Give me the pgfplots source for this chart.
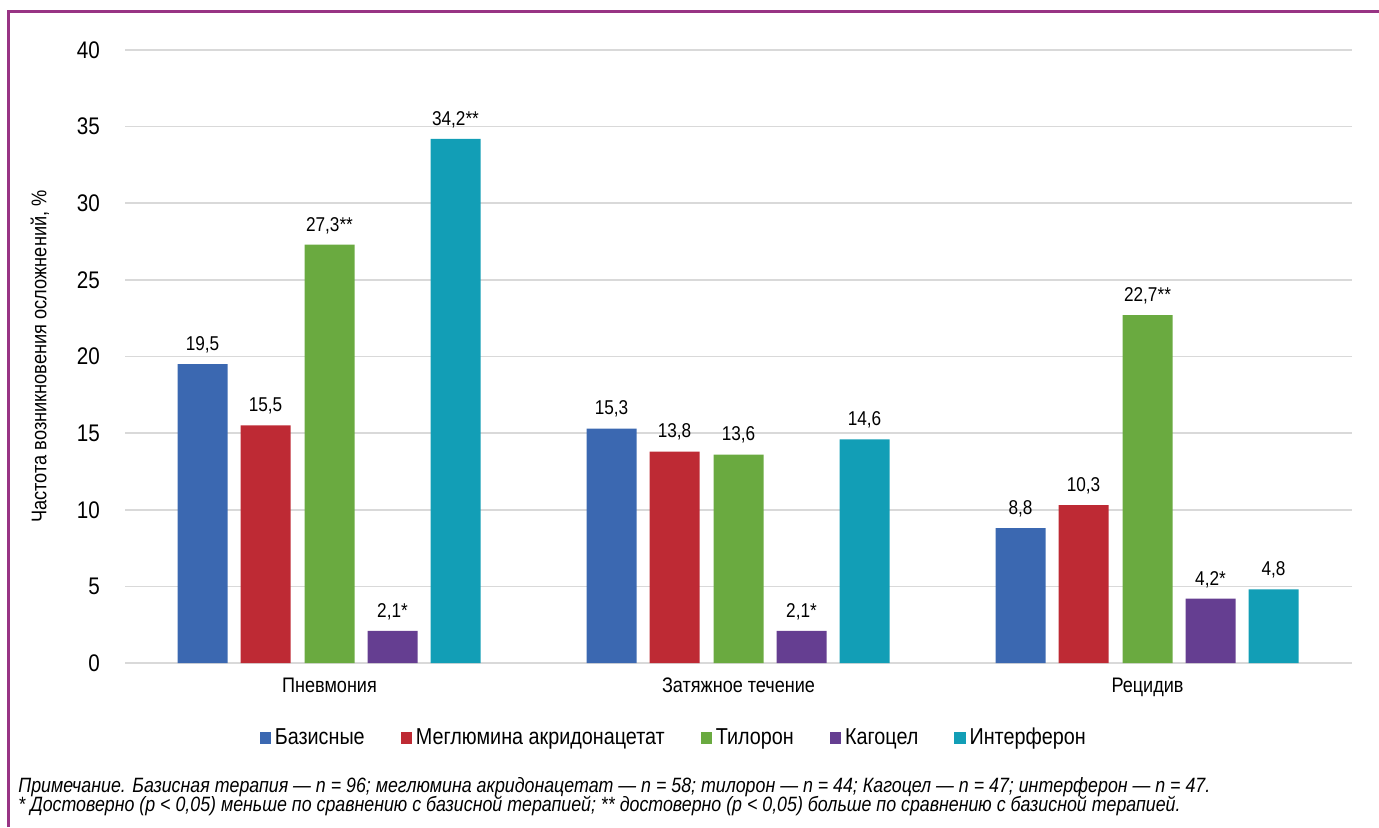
\documentclass[border=0pt]{standalone}
\usepackage{pgfplots}
\pgfplotsset{compat=1.18}
\usepackage{pgfplotstable}
\usepackage{fontspec}
\setmainfont{Liberation Sans}[FakeStretch=0.86]

\definecolor{cBas}{RGB}{59,104,177}
\definecolor{cMeg}{RGB}{190,42,52}
\definecolor{cTil}{RGB}{106,170,64}
\definecolor{cKag}{RGB}{101,62,145}
\definecolor{cInt}{RGB}{18,158,182}
\definecolor{cFrame}{RGB}{152,52,132}
\definecolor{cGrid}{RGB}{217,217,217}

% x: 0 = Пневмония, 1 = Затяжное течение, 2 = Рецидив
\pgfplotstableread{
x y lab
0 19.5 19,5
1 15.3 15,3
2 8.8 8,8
}\tBas
\pgfplotstableread{
x y lab
0 15.5 15,5
1 13.8 13,8
2 10.3 10,3
}\tMeg
\pgfplotstableread{
x y lab
0 27.3 27,3**
1 13.6 13,6
2 22.7 22,7**
}\tTil
\pgfplotstableread{
x y lab
0 2.1 2,1*
1 2.1 2,1*
2 4.2 4,2*
}\tKag
\pgfplotstableread{
x y lab
0 34.2 34,2**
1 14.6 14,6
2 4.8 4,8
}\tInt

\begin{document}
\begin{tikzpicture}
\useasboundingbox (0,0) rectangle (689.5pt,413.5pt);
\draw[cFrame, line width=1.5pt] (4pt,0) -- (4pt,407.5pt) -- (689.5pt,407.5pt);
\begin{axis}[
  at={(62.5pt,82pt)}, anchor=south west,
  scale only axis, width=613.5pt, height=306.5pt,
  xmin=-0.5, xmax=2.5, ymin=0, ymax=40,
  ytick={0,5,...,40},
  xtick={0,1,2},
  xticklabels={Пневмония, Затяжное течение, Рецидив},
  /pgf/number format/assume math mode=true,
  yticklabel style={font=\fontsize{12}{14}\selectfont, xshift=-9pt},
  xticklabel style={font=\fontsize{10.5}{12}\selectfont, yshift=-4pt},
  major tick length=0pt,
  axis x line*=bottom, axis y line*=left,
  x axis line style={cGrid, line width=0.8pt},
  y axis line style={draw=none},
  ymajorgrids, grid style={cGrid, line width=0.8pt},
  ylabel={Частота возникновения осложнений, \%},
  ylabel style={font=\fontsize{10.6}{12}\selectfont, at={(axis description cs:-0.0693,0.5)}, anchor=center},
  ybar, bar width=25pt,
  point meta=explicit symbolic,
  nodes near coords,
  every node near coord/.append style={font=\fontsize{10}{11}\selectfont, black, yshift=2pt},
  legend columns=5,
  legend style={at={(axis description cs:0.448,-0.1223)}, anchor=center, draw=none, fill=none,
    font=\fontsize{11.5}{13}\selectfont,
    /tikz/every even column/.append style={column sep=16pt}},
  legend image code/.code={\fill[#1] (0pt,-2.8pt) rectangle (5.6pt,2.8pt);},
]
\addplot[fill=cBas, draw=none, bar shift=-63.5pt] table[x=x,y=y,meta=lab] {\tBas};
\addplot[fill=cMeg, draw=none, bar shift=-32pt] table[x=x,y=y,meta=lab] {\tMeg};
\addplot[fill=cTil, draw=none, bar shift=0pt] table[x=x,y=y,meta=lab] {\tTil};
\addplot[fill=cKag, draw=none, bar shift=31.5pt] table[x=x,y=y,meta=lab] {\tKag};
\addplot[fill=cInt, draw=none, bar shift=63pt] table[x=x,y=y,meta=lab] {\tInt};
\legend{Базисные, Меглюмина акридонацетат, Тилорон, Кагоцел, Интерферон}
\end{axis}
\node[anchor=west, inner sep=0pt, font=\fontsize{10.35}{12}\itshape] at (9pt,20pt)
  {Примечание. Базисная терапия — n = 96; меглюмина акридонацетат — n = 58; тилорон — n = 44; Кагоцел — n = 47; интерферон — n = 47.};
\node[anchor=west, inner sep=0pt, font=\fontsize{10.35}{12}\itshape] at (9pt,10.5pt)
  {* Достоверно (p < 0,05) меньше по сравнению с базисной терапией; ** достоверно (p < 0,05) больше по сравнению с базисной терапией.};
\end{tikzpicture}
\end{document}
